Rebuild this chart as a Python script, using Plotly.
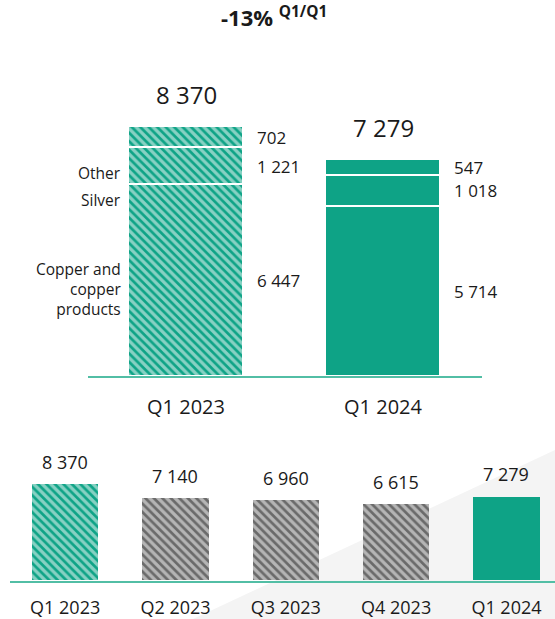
import plotly.graph_objects as go

# ---- data ----
quarters_main = ["Q1 2023", "Q1 2024"]
copper = [6447, 5714]
silver = [1221, 1018]
other = [702, 547]
totals = [8370, 7279]

quarters_all = ["Q1 2023", "Q2 2023", "Q3 2023", "Q4 2023", "Q1 2024"]
revenue_all = [8370, 7140, 6960, 6615, 7279]

side_labels = ["Other", "Silver", "Copper and<br>copper<br>products"]
side_label_y = [6824, 5916, 2924]

# ---- styling ----
TEAL = "#0ea386"
AXIS_TEAL = "#52bea5"
GREY = "#6a6a6a"
TXT = "#1a1a1a"
FONT = "Open Sans"
HATCH_SIZE = 6
HATCH_SOLIDITY = 0.55

W, H = 555, 619


def px_x(p):
    return p / W


def px_y(p):
    return 1 - p / H


def fmt(v):
    return f"{v:,}".replace(",", " ")


fig = go.Figure()

# top: stacked breakdown, hatched for last year, solid for current
main_shapes = ["\\", ""]
main_colors = [TEAL, TEAL]
for vals in (copper, silver, other):
    fig.add_trace(go.Bar(
        x=quarters_main, y=vals, xaxis="x", yaxis="y",
        width=0.58,
        marker=dict(
            color=main_colors,
            line=dict(color="white", width=1.5),
            pattern=dict(shape=main_shapes, fgcolor=main_colors,
                         bgcolor="white", size=HATCH_SIZE,
                         solidity=HATCH_SOLIDITY),
        ),
        hoverinfo="skip", showlegend=False,
    ))

# bottom: quarterly series
bottom_shapes = ["\\", "\\", "\\", "\\", ""]
bottom_fg = [TEAL, GREY, GREY, GREY, TEAL]
fig.add_trace(go.Bar(
    x=quarters_all, y=revenue_all, xaxis="x2", yaxis="y2",
    width=0.6,
    marker=dict(
        color=bottom_fg,
        line=dict(width=0),
        pattern=dict(shape=bottom_shapes, fgcolor=bottom_fg, bgcolor="white",
                     size=HATCH_SIZE, solidity=HATCH_SOLIDITY),
    ),
    hoverinfo="skip", showlegend=False,
))

annotations = []

# totals above the top bars
for q, t in zip(quarters_main, totals):
    annotations.append(dict(
        x=q, y=t, xref="x", yref="y", text=fmt(t),
        showarrow=False, yanchor="middle", yshift=32,
        font=dict(family=FONT, size=24, color=TXT),
    ))

# segment values to the right of each top bar
for i, q in enumerate(quarters_main):
    base = 0
    for vals in (copper, silver, other):
        v = vals[i]
        annotations.append(dict(
            x=i + 0.29, y=base + v / 2, xref="x", yref="y",
            text=fmt(v), showarrow=False,
            xanchor="left", yanchor="middle", xshift=12,
            font=dict(family=FONT, size=17, color=TXT),
        ))
        base += v

# category names left of the first bar
for lab, yv in zip(side_labels, side_label_y):
    annotations.append(dict(
        x=-0.29, y=yv, xref="x", yref="y", text=lab, showarrow=False,
        xanchor="right", yanchor="middle", xshift=-6, align="right",
        font=dict(family=FONT, size=15.5, color=TXT),
    ))

# values above the quarterly bars
for q, v in zip(quarters_all, revenue_all):
    annotations.append(dict(
        x=q, y=v, xref="x2", yref="y2", text=fmt(v),
        showarrow=False, yanchor="middle", yshift=23,
        font=dict(family=FONT, size=18, color=TXT),
    ))

# headline change
annotations.append(dict(
    x=px_x(274), y=px_y(17), xref="paper", yref="paper",
    text="<b>-13%</b> <sup><b>Q1/Q1</b></sup>", showarrow=False,
    xanchor="center", yanchor="middle",
    font=dict(family=FONT, size=22, color=TXT),
))

fig.update_layout(
    width=W, height=H,
    margin=dict(l=0, r=0, t=0, b=0),
    paper_bgcolor="white", plot_bgcolor="rgba(0,0,0,0)",
    barmode="stack", bargap=0,
    font=dict(family=FONT, color=TXT),
    annotations=annotations,
    shapes=[dict(
        type="path", xref="paper", yref="paper", layer="below",
        path=f"M {px_x(193)} {px_y(619)} L 1 {px_y(450)} L 1 {px_y(619)} Z",
        fillcolor="#f4f4f4", line=dict(width=0),
    )],
    xaxis=dict(
        domain=[px_x(87.5), px_x(481.5)], range=[-0.5, 1.5],
        showline=True, linecolor=AXIS_TEAL, linewidth=2,
        ticks="", showgrid=False, zeroline=False, fixedrange=True,
        tickfont=dict(family=FONT, size=20, color=TXT),
        ticklabelstandoff=12,
        anchor="y",
    ),
    yaxis=dict(
        domain=[px_y(376), px_y(78.5)], range=[0, 10000],
        visible=False, fixedrange=True, anchor="x",
    ),
    xaxis2=dict(
        domain=[px_x(10), 1], range=[-0.5, 4.44],
        showline=True, linecolor=AXIS_TEAL, linewidth=2,
        ticks="", showgrid=False, zeroline=False, fixedrange=True,
        tickfont=dict(family=FONT, size=18, color=TXT),
        ticklabelstandoff=10,
        anchor="y2",
    ),
    yaxis2=dict(
        domain=[px_y(580.5), px_y(477.3)], range=[0, 9000],
        visible=False, fixedrange=True, anchor="x2",
    ),
)

fig.write_html("out.html")
